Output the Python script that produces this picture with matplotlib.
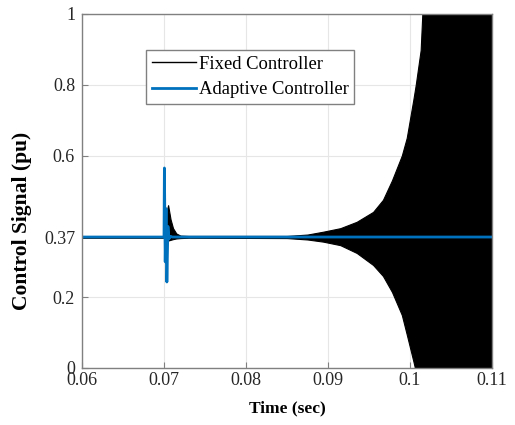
import matplotlib.pyplot as plt
import matplotlib

matplotlib.rcParams['font.family'] = ['Liberation Serif', 'DejaVu Serif']

# ---- data ----
# envelope (upper / lower) of the fixed controller's fast oscillation
fixed_t = [0.0600, 0.0701, 0.0703, 0.0705, 0.0708, 0.0711, 0.0715, 0.0720,
           0.0730, 0.0850, 0.0875, 0.0894, 0.0915, 0.0935, 0.0955, 0.0967,
           0.0978, 0.0990, 0.0996, 0.1004, 0.1007, 0.1013, 0.1016, 0.1100]
fixed_upper = [0.372, 0.372, 0.44, 0.46, 0.42, 0.395, 0.38, 0.374,
               0.373, 0.373, 0.377, 0.385, 0.395, 0.413, 0.441, 0.475,
               0.53, 0.60, 0.65, 0.757, 0.80, 0.898, 1.05, 1.05]
fixed_lower = [0.368, 0.368, 0.362, 0.360, 0.362, 0.364, 0.366, 0.367,
               0.368, 0.367, 0.363, 0.357, 0.347, 0.325, 0.291, 0.260,
               0.215, 0.150, 0.095, 0.02, -0.01, -0.05, -0.05, -0.05]

adaptive_t = [0.0600, 0.07000, 0.07005, 0.07015, 0.07025, 0.07035, 0.07048,
              0.0706, 0.0708, 0.0710, 0.1100]
adaptive_v = [0.370, 0.370, 0.565, 0.300, 0.450, 0.243, 0.400,
              0.365, 0.372, 0.370, 0.370]

x_ticks = [0.06, 0.07, 0.08, 0.09, 0.1, 0.11]
x_labels = ['0.06', '0.07', '0.08', '0.09', '0.1', '0.11']
y_ticks = [0, 0.2, 0.37, 0.6, 0.8, 1]
y_labels = ['0', '0.2', '0.37', '0.6', '0.8', '1']

fig = plt.figure(figsize=(5.15, 4.25), dpi=100)
ax = fig.add_axes([82 / 515, 57 / 425, 410 / 515, 354 / 425])

ax.fill_between(fixed_t, fixed_lower, fixed_upper, color='black', linewidth=0.8,
                edgecolor='black')
ax.plot([], [], color='black', linewidth=1.0, label='Fixed Controller')
ax.plot(adaptive_t, adaptive_v, color='#0072BD', linewidth=2.0,
        label='Adaptive Controller')

ax.set_xlim(0.06, 0.11)
ax.set_ylim(0, 1)
ax.set_xticks(x_ticks)
ax.set_xticklabels(x_labels)
ax.set_yticks(y_ticks)
ax.set_yticklabels(y_labels)
ax.tick_params(direction='in', length=4, labelsize=13, colors='#262626',
               color='#808080')
ax.tick_params(axis='y', pad=5)
ax.tick_params(axis='x', pad=3)
ax.grid(True, color='#e6e6e6', linewidth=0.8)
ax.set_axisbelow(True)
for s in ax.spines.values():
    s.set_color('#808080')
    s.set_linewidth(1.0)

ax.set_xlabel('Time (sec)', fontsize=12.5, fontweight='bold', labelpad=8)
ax.set_ylabel('Control Signal (pu)', fontsize=15.5, fontweight='bold')
ax.yaxis.set_label_coords(-0.122, 0.415)

leg = ax.legend(loc='upper left', bbox_to_anchor=(0.156, 0.898), fontsize=13.4,
                fancybox=False, framealpha=1, edgecolor='#808080',
                borderaxespad=0, handlelength=2.4, handletextpad=0.15,
                borderpad=0.3, labelspacing=0.45)
leg.get_frame().set_linewidth(1.0)

plt.savefig('out.png', dpi=100)
plt.close()
